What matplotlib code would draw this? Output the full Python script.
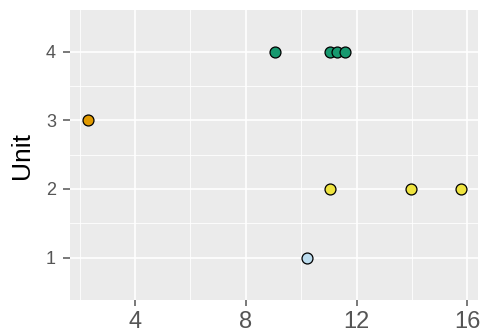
import matplotlib
matplotlib.use("Agg")
import matplotlib.pyplot as plt
import numpy as np

plt.rcParams['font.family'] = ['Liberation Sans', 'DejaVu Sans']

# values
x_orange = [2.31]
y_orange = [3]
x_green = [9.05, 11.04, 11.29, 11.6]
y_green = [4, 4, 4, 4]
x_yellow = [11.04, 13.97, 15.76]
y_yellow = [2, 2, 2]
x_blue = [10.22]
y_blue = [1]

x_ticks = [4, 8, 12, 16]
y_ticks = [1, 2, 3, 4]

fig = plt.figure(figsize=(4.82, 3.36), dpi=100)
ax = fig.add_axes([0.145, 0.107, 0.847, 0.863])
ax.set_facecolor('#EBEBEB')

# ggplot-style grid: major + minor lines at midpoints
for v in [2, 6, 10, 14]:
    ax.axvline(v, color='white', lw=0.6, zorder=0)
for v in [1.5, 2.5, 3.5]:
    ax.axhline(v, color='white', lw=0.6, zorder=0)
for v in x_ticks:
    ax.axvline(v, color='white', lw=1.2, zorder=0)
for v in y_ticks:
    ax.axhline(v, color='white', lw=1.2, zorder=0)

kw = dict(s=62, edgecolors='black', linewidths=0.9, zorder=3)
ax.scatter(x_orange, y_orange, c='#E19A00', **kw)
ax.scatter(x_green, y_green, c='#17996F', **kw)
ax.scatter(x_yellow, y_yellow, c='#EEE33F', **kw)
ax.scatter(x_blue, y_blue, c='#BCDCEE', **kw)

ax.set_xlim(1.65, 16.39)
ax.set_ylim(0.38, 4.61)
ax.set_xticks(x_ticks)
ax.set_yticks(y_ticks)
ax.tick_params(colors='#555555', width=1.1)
ax.tick_params(axis='x', labelsize=17, length=4, pad=4)
ax.tick_params(axis='y', labelsize=13, length=5, pad=5)
for lab in ax.get_xticklabels() + ax.get_yticklabels():
    lab.set_color('#555555')
for s in ax.spines.values():
    s.set_visible(False)

ax.set_ylabel('Unit', fontsize=19, color='black', labelpad=9)

fig.savefig('out.png', dpi=100)
